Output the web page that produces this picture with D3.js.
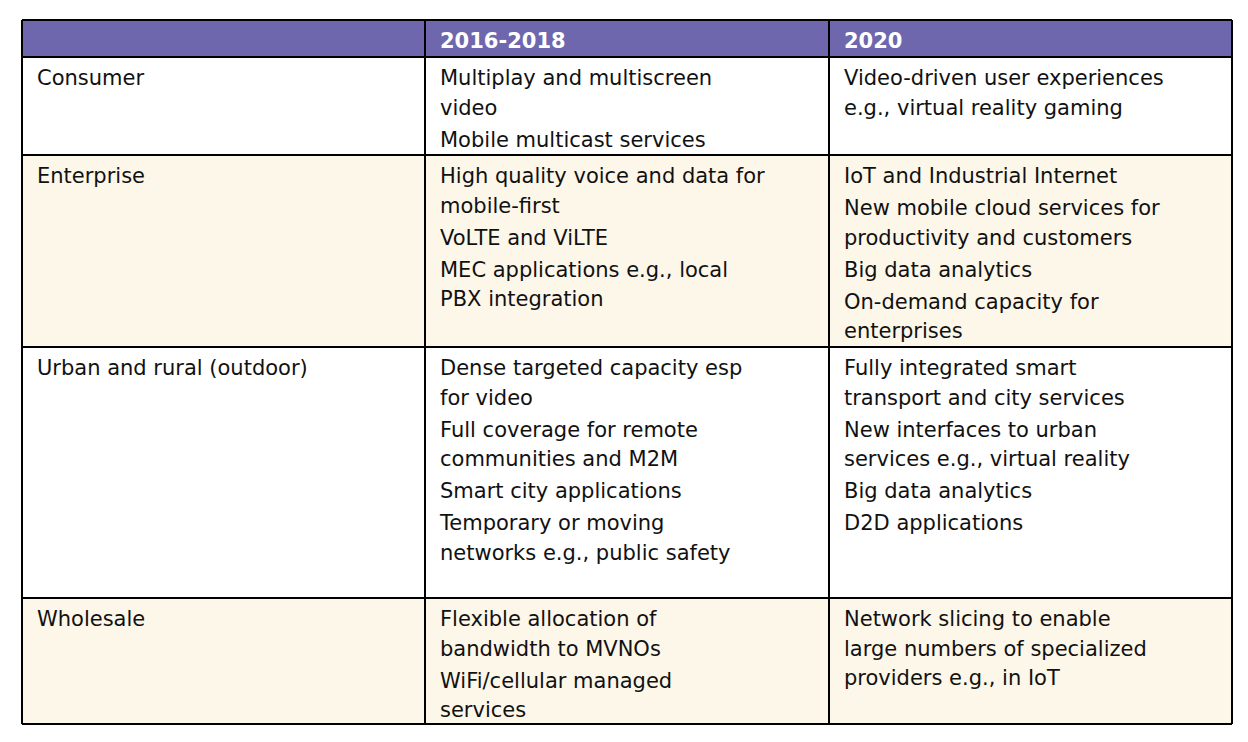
<!DOCTYPE html>
<html>
<head>
<meta charset="utf-8">
<script src="https://cdn.jsdelivr.net/npm/d3@7"></script>
<style>
  body { margin: 0; background: #fff; }
  text { font-family: "DejaVu Sans", Verdana, sans-serif; }
</style>
</head>
<body>
<svg id="chart" width="1248" height="742"></svg>
<script>
// table content: each cell is a list of items, each item a list of wrapped lines
const headers = ["", "2016-2018", "2020"];
const segments = ["Consumer", "Enterprise", "Urban and rural (outdoor)", "Wholesale"];
const early = [
  [["Multiplay and multiscreen", "video"], ["Mobile multicast services"]],
  [["High quality voice and data for", "mobile-first"], ["VoLTE and ViLTE"], ["MEC applications e.g., local", "PBX integration"]],
  [["Dense targeted capacity esp", "for video"], ["Full coverage for remote", "communities and M2M"], ["Smart city applications"], ["Temporary or moving", "networks e.g., public safety"]],
  [["Flexible allocation of", "bandwidth to MVNOs"], ["WiFi/cellular managed", "services"]]
];
const later = [
  [["Video-driven user experiences", "e.g., virtual reality gaming"]],
  [["IoT and Industrial Internet"], ["New mobile cloud services for", "productivity and customers"], ["Big data analytics"], ["On-demand capacity for", "enterprises"]],
  [["Fully integrated smart", "transport and city services"], ["New interfaces to urban", "services e.g., virtual reality"], ["Big data analytics"], ["D2D applications"]],
  [["Network slicing to enable", "large numbers of specialized", "providers e.g., in IoT"]]
];
const rowEdges = [57, 155, 347, 598, 724];

const svg = d3.select("#chart");
const x = d3.scaleOrdinal().domain([0, 1, 2]).range([22, 425, 829]);
const colRight = 1232, tableTop = 20;
const fills = ["#ffffff", "#fdf7ea", "#ffffff", "#fdf7ea"];

// header
svg.append("rect").attr("x", 22).attr("y", tableTop).attr("width", colRight - 22).attr("height", rowEdges[0] - tableTop).attr("fill", "#6e67ae");
svg.selectAll(".hd").data(headers).join("text")
  .attr("x", (d, i) => x(i) + 15).attr("y", 48)
  .attr("fill", "#fff").attr("font-weight", "bold").attr("font-size", 21).text(d => d);

// body rows
segments.forEach((seg, r) => {
  const y0 = rowEdges[r];
  svg.append("rect").attr("x", 22).attr("y", y0).attr("width", colRight - 22)
    .attr("height", rowEdges[r + 1] - y0).attr("fill", fills[r]);
  const cells = [[[seg]], early[r], later[r]];
  cells.forEach((items, c) => {
    let yy = y0 + 28;
    items.forEach(item => {
      item.forEach((line, k) => {
        svg.append("text").attr("x", x(c) + 15).attr("y", yy)
          .attr("font-size", 21).attr("fill", "#111").text(line);
        yy += k < item.length - 1 ? 29.5 : 0;
      });
      yy += 32;
    });
  });
});

// grid lines
const lines = svg.append("g").attr("stroke", "#000").attr("stroke-width", 2);
[tableTop].concat(rowEdges).forEach(y => lines.append("line").attr("x1", 22).attr("x2", colRight).attr("y1", y).attr("y2", y));
[22, 425, 829, colRight].forEach(xx => lines.append("line").attr("x1", xx).attr("x2", xx).attr("y1", tableTop).attr("y2", rowEdges[4]));
</script>
</body>
</html>
